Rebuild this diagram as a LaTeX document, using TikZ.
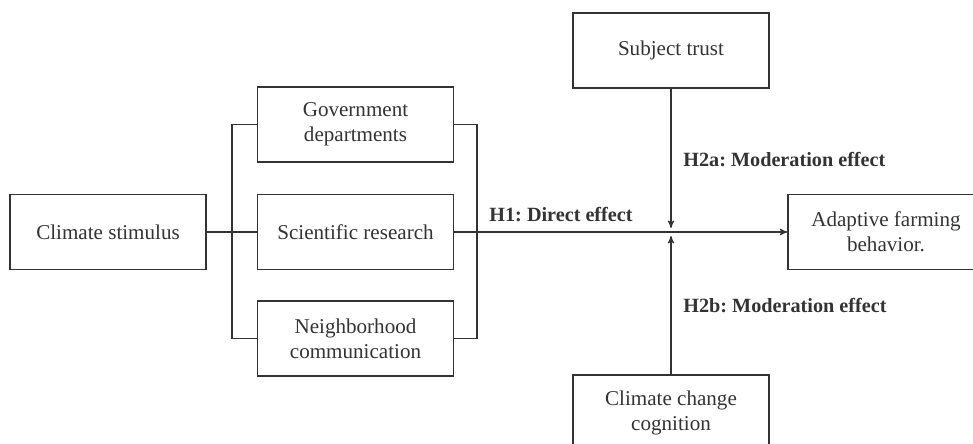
\documentclass[tikz,border=0pt]{standalone}
\usepackage{fontspec}
\setmainfont{Liberation Serif}
\usetikzlibrary{shapes.geometric, arrows}
\usetikzlibrary{positioning}
\frenchspacing

\begin{document}
\begin{tikzpicture}[>=stealth',semithick,x=0.02cm,y=-0.02cm]
		\tikzstyle{box}=[draw=black!80,thick,rectangle,minimum width=3.92cm,minimum height=1.5cm,align=center,text=black!80,font=\fontsize{12}{14.2}\selectfont]
		\tikzstyle{hyp}=[text=black!80,font=\bfseries\fontsize{11.5}{14}\selectfont]
		\tikzstyle{link}=[draw=black!80]
		\clip (0,0) rectangle (973,443);
		\node[box]    (stim) at (108,232)   {Climate stimulus};
		\node[box]    (sci)  at (355.5,232) {Scientific research};
		\node[box]    (gov)  [above=0.62cm of sci] {Government\\departments};
		\node[box]    (nbr)  [below=0.6cm of sci]  {Neighborhood\\communication};
		\node[box]    (behav) at (886,232)  {Adaptive farming\\behavior.};
		\node[box]    (trust) at (671,50.5) {Subject trust};
		\node[box]    (cogn)  at (671,412.5) {Climate change\\cognition};
		\coordinate (lbus) at (232,232);
		\coordinate (rbus) at (477,232);
		\coordinate (modA) at (671,228);
		\coordinate (modB) at (671,236);
		\node[hyp]             (h1)  at (561,215) {H1: Direct effect};
		\node[hyp,anchor=west] (h2a) at (677,160) {H2a: Moderation effect};
		\node[hyp,anchor=west] (h2b) at (677,306) {H2b: Moderation effect};
		\draw[link] (stim.east) -- (sci.west);
		\draw[link] (gov.west) -| (lbus) |- (nbr.west);
		\draw[link] (gov.east) -| (rbus) |- (nbr.east);
		\draw[link,->] (sci.east) -- (behav.west);
		\draw[link,->] (trust.south) -- (modA);
		\draw[link,->] (cogn.north) -- (modB);
	\end{tikzpicture}
\end{document}
